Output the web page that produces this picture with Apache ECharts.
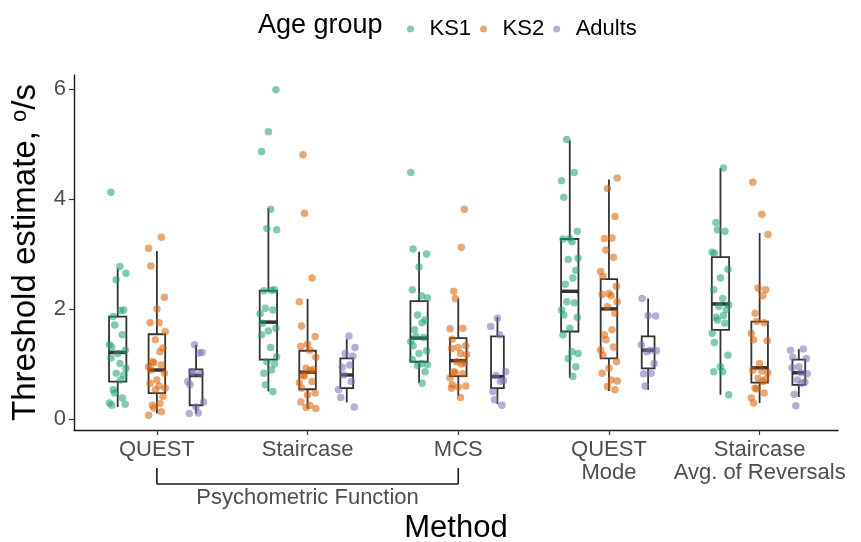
<!DOCTYPE html>
<html><head><meta charset="utf-8">
<script src="https://cdn.jsdelivr.net/npm/echarts@6/dist/echarts.min.js"></script>
<style>html,body{margin:0;padding:0;background:#fff}#c{width:861px;height:542px}</style>
</head><body><div id="c"></div>
<script>
// ---- data ----
const methods = ['QUEST', 'Staircase', 'MCS', 'QUEST\nMode', 'Staircase\nAvg. of Reversals'];
const groupNames = ['KS1', 'KS2', 'Adults'];
const yTicks = [0, 2, 4, 6];
const bracketLabel = 'Psychometric Function';

// box stats per method: [lower whisker, Q1, median, Q3, upper whisker]
const ks1Box = [
  [0.22, 0.68, 1.21, 1.86, 2.74],
  [0.50, 1.08, 1.76, 2.33, 3.83],
  [0.66, 1.04, 1.47, 2.14, 3.04],
  [0.75, 1.59, 2.32, 3.27, 5.06],
  [0.44, 1.62, 2.09, 2.94, 4.56]
];
const ks2Box = [
  [0.10, 0.47, 0.89, 1.54, 3.05],
  [0.19, 0.54, 0.85, 1.24, 2.18],
  [0.42, 0.78, 1.06, 1.47, 2.19],
  [0.51, 1.10, 2.00, 2.54, 4.35],
  [0.29, 0.66, 0.93, 1.77, 3.38]
];
const adultsBox = [
  [0.10, 0.25, 0.79, 0.90, 1.35],
  [0.30, 0.56, 0.80, 1.10, 1.45],
  [0.27, 0.56, 0.77, 1.50, 1.85],
  [0.53, 0.92, 1.25, 1.50, 2.19],
  [0.40, 0.62, 0.84, 1.08, 1.27]
];

// individual observations per method
const ks1Points = [
  [4.12, 2.77, 2.65, 2.53, 1.98, 1.97, 1.86, 1.71, 1.53, 1.35, 1.31, 1.25, 1.19, 1.11, 1.01, 0.92, 0.83, 0.80, 0.71, 0.53, 0.47, 0.38, 0.29, 0.25, 0.27],
  [5.98, 5.22, 4.86, 3.81, 3.44, 3.46, 2.35, 2.34, 2.33, 2.01, 1.98, 1.91, 1.74, 1.65, 1.60, 1.53, 1.30, 1.13, 1.04, 1.00, 0.89, 0.83, 0.62, 0.50],
  [4.48, 3.09, 3.00, 2.76, 2.35, 2.24, 2.20, 1.89, 1.80, 1.75, 1.62, 1.50, 1.48, 1.41, 1.33, 1.24, 1.19, 1.08, 1.01, 0.99, 0.97, 0.86, 0.65],
  [5.08, 4.48, 4.33, 4.03, 3.41, 3.28, 3.27, 3.22, 2.92, 2.90, 2.70, 2.56, 2.45, 2.13, 2.11, 1.98, 1.89, 1.85, 1.65, 1.53, 1.22, 1.19, 1.10, 0.95, 0.77],
  [4.56, 3.57, 3.44, 3.41, 3.03, 3.01, 2.72, 2.56, 2.35, 2.19, 2.07, 2.05, 1.99, 1.88, 1.85, 1.80, 1.74, 1.56, 1.39, 1.16, 0.95, 0.86, 0.86, 0.44]
];
const ks2Points = [
  [3.30, 3.10, 2.78, 2.21, 2.00, 1.75, 1.75, 1.59, 1.44, 1.29, 1.22, 1.04, 1.02, 0.98, 0.95, 0.89, 0.83, 0.71, 0.65, 0.60, 0.56, 0.53, 0.41, 0.28, 0.25, 0.20, 0.13, 0.07],
  [4.80, 3.74, 2.56, 2.13, 1.69, 1.50, 1.36, 1.32, 1.25, 1.12, 0.92, 0.90, 0.88, 0.80, 0.78, 0.68, 0.66, 0.56, 0.47, 0.44, 0.31, 0.25, 0.19, 0.21],
  [3.81, 3.12, 2.32, 2.19, 1.65, 1.64, 1.45, 1.33, 1.30, 1.28, 1.19, 1.17, 1.04, 1.02, 1.00, 0.86, 0.84, 0.82, 0.75, 0.62, 0.60, 0.58, 0.56, 0.39],
  [4.38, 4.19, 3.68, 3.29, 3.28, 3.07, 2.94, 2.68, 2.59, 2.41, 2.28, 2.26, 2.24, 2.13, 2.04, 1.92, 1.62, 1.53, 1.44, 1.31, 1.25, 1.16, 1.04, 0.92, 0.83, 0.71, 0.69, 0.59, 0.53],
  [4.30, 3.72, 3.35, 2.38, 2.35, 2.24, 1.92, 1.77, 1.75, 1.56, 1.44, 1.42, 1.01, 0.89, 0.87, 0.84, 0.74, 0.72, 0.68, 0.56, 0.55, 0.47, 0.38, 0.29]
];
const adultsPoints = [
  [1.35, 1.21, 1.20, 0.86, 0.84, 0.82, 0.68, 0.62, 0.31, 0.22, 0.10, 0.11],
  [1.51, 1.30, 1.19, 1.14, 0.98, 0.94, 0.80, 0.68, 0.53, 0.39, 0.22],
  [1.83, 1.68, 1.53, 0.86, 0.79, 0.70, 0.68, 0.50, 0.35, 0.25],
  [2.19, 1.87, 1.88, 1.35, 1.25, 1.24, 1.22, 1.01, 0.83, 0.82, 0.60],
  [1.27, 1.25, 1.12, 1.10, 0.95, 0.93, 0.84, 0.82, 0.71, 0.67, 0.65, 0.45, 0.24]
];

// ---- styling ----
const FONT = "'Liberation Sans', Arial, sans-serif";
const colors = ['#1b9e77', '#d95f02', '#7570b3'];
const dodge = [-0.26, 0, 0.26];
const boxW = [0.115, 0.11, 0.085];
const jitterPattern = [-0.045, 0.03, -0.01, 0.05, -0.03, 0.015, -0.055, 0.04, 0.0, -0.02, 0.055, -0.04, 0.02];
const Y_MIN = -0.2, Y_MAX = 6.25;

const boxes = [ks1Box, ks2Box, adultsBox];
const points = [ks1Points, ks2Points, adultsPoints];

function boxData(b, g) { return b.map((s, m) => [m + dodge[g]].concat(s)); }
function pointData(p, g) {
  const out = [];
  p.forEach((vals, m) => vals.forEach((v, i) => {
    out.push([m + dodge[g] + jitterPattern[(i * 5 + m * 3 + g) % jitterPattern.length], v]);
  }));
  return out;
}
function boxRenderer(g) {
  return function (params, api) {
    const x = api.value(0);
    const lo = api.coord([x, api.value(1)]);
    const q1 = api.coord([x, api.value(2)]);
    const md = api.coord([x, api.value(3)]);
    const q3 = api.coord([x, api.value(4)]);
    const hi = api.coord([x, api.value(5)]);
    const half = api.size([boxW[g], 0])[0] / 2;
    const st = { stroke: '#333333', lineWidth: 1.8, fill: null };
    return {
      type: 'group', children: [
        { type: 'line', shape: { x1: lo[0], y1: lo[1], x2: q1[0], y2: q1[1] }, style: st },
        { type: 'line', shape: { x1: q3[0], y1: q3[1], x2: hi[0], y2: hi[1] }, style: st },
        { type: 'rect', shape: { x: q1[0] - half, y: q3[1], width: 2 * half, height: q1[1] - q3[1] },
          style: { fill: '#ffffff', stroke: '#333333', lineWidth: 1.8 } },
        { type: 'line', shape: { x1: md[0] - half, y1: md[1], x2: md[0] + half, y2: md[1] },
          style: { stroke: '#333333', lineWidth: 3.5 } }
      ]
    };
  };
}

const series = [];
groupNames.forEach((name, g) => {
  series.push({
    type: 'custom', name: name + ' box', z: 2, silent: true,
    renderItem: boxRenderer(g),
    encode: { x: 0, y: [1, 2, 3, 4, 5] },
    data: boxData(boxes[g], g)
  });
});
groupNames.forEach((name, g) => {
  series.push({
    type: 'scatter', name: name, z: 3, symbolSize: 7.5,
    itemStyle: { color: colors[g], opacity: 0.55 },
    data: pointData(points[g], g)
  });
});
// bracket under first three methods
series.push({
  type: 'custom', name: 'bracket', clip: false, silent: true, z: 5,
  encode: { x: [0, 1] },
  data: [[0, 2]],
  renderItem: function (params, api) {
    const a = api.coord([api.value(0), Y_MIN]);
    const b = api.coord([api.value(1), Y_MIN]);
    const y0 = a[1];
    const st = { stroke: '#1a1a1a', lineWidth: 1.6, fill: null };
    return {
      type: 'group', children: [
        { type: 'line', shape: { x1: a[0], y1: y0 + 38, x2: a[0], y2: y0 + 54 }, style: st },
        { type: 'line', shape: { x1: b[0], y1: y0 + 38, x2: b[0], y2: y0 + 54 }, style: st },
        { type: 'line', shape: { x1: a[0], y1: y0 + 54, x2: b[0], y2: y0 + 54 }, style: st },
        { type: 'text', x: (a[0] + b[0]) / 2, y: y0 + 68,
          style: { text: bracketLabel, align: 'center', verticalAlign: 'middle',
                   fontSize: 22, fontFamily: FONT, fill: '#4d4d4d' } }
      ]
    };
  }
});

const chart = echarts.init(document.getElementById('c'), null, { renderer: 'canvas' });
chart.setOption({
  animation: false,
  backgroundColor: '#ffffff',
  textStyle: { fontFamily: FONT },
  title: {
    text: 'Age group', left: 253, top: 7,
    textStyle: { fontSize: 27, fontWeight: 'normal', color: '#000', fontFamily: FONT }
  },
  legend: {
    data: groupNames, left: 402, top: 13, icon: 'circle',
    itemWidth: 28, itemHeight: 7, itemGap: 9,
    textStyle: { fontSize: 22, color: '#000', fontFamily: FONT }
  },
  grid: { left: 74, right: 23, top: 75, bottom: 112, containLabel: false, outerBoundsMode: 'none' },
  xAxis: {
    type: 'value', min: -0.55, max: 4.52,
    name: 'Method', nameLocation: 'middle', nameGap: 83,
    nameTextStyle: { fontSize: 31, color: '#000', fontFamily: FONT },
    splitLine: { show: false },
    axisLine: { onZero: false, lineStyle: { color: '#1a1a1a', width: 1.4 } },
    axisTick: { customValues: [0, 1, 2, 3, 4], length: 5, lineStyle: { color: '#333', width: 1.2 } },
    axisLabel: {
      customValues: [0, 1, 2, 3, 4], margin: 8,
      formatter: v => methods[Math.round(v)],
      fontSize: 22, lineHeight: 23, color: '#4d4d4d', fontFamily: FONT
    }
  },
  yAxis: {
    type: 'value', min: Y_MIN, max: Y_MAX,
    name: '{a|Threshold estimate, }{o|o}{a|/s}', nameLocation: 'middle', nameGap: 20,
    nameTextStyle: {
      fontFamily: FONT,
      rich: {
        a: { fontSize: 33, color: '#000', fontFamily: FONT },
        o: { fontSize: 22, color: '#000', fontFamily: FONT, verticalAlign: 'top', padding: [0, 0, 12, 0] }
      }
    },
    splitLine: { show: false },
    axisLine: { show: true, onZero: false, lineStyle: { color: '#1a1a1a', width: 1.4 } },
    axisTick: { show: true, customValues: yTicks, length: 5, lineStyle: { color: '#333', width: 1.2 } },
    axisLabel: { customValues: yTicks, margin: 8, fontSize: 22, color: '#4d4d4d', fontFamily: FONT }
  },
  series: series
});
</script>
</body></html>
